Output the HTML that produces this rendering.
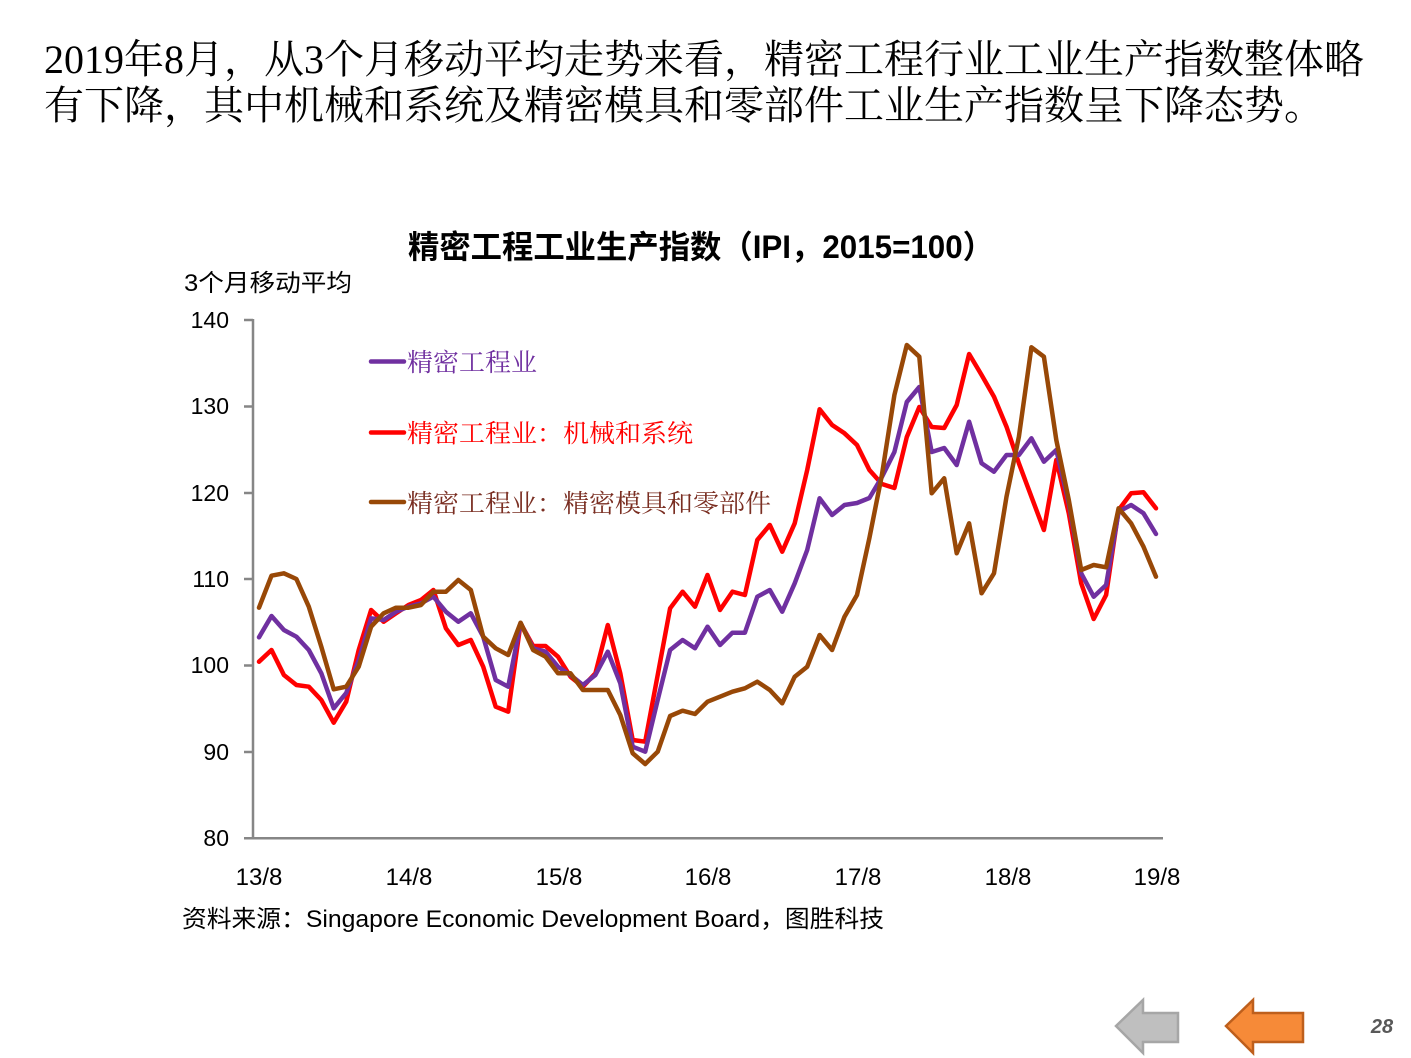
<!DOCTYPE html>
<html><head><meta charset="utf-8"><style>
html,body{margin:0;padding:0;background:#fff;}
svg{display:block;}
</style></head><body>
<svg width="1411" height="1058" viewBox="0 0 1411 1058" xmlns="http://www.w3.org/2000/svg">
<rect width="1411" height="1058" fill="#fff"/>
<!-- heading -->
<g font-family="'Liberation Serif','Noto Serif CJK SC',serif" font-size="40" fill="#000">
<text x="44" y="73" textLength="1320" lengthAdjust="spacingAndGlyphs">2019年8月，从3个月移动平均走势来看，精密工程行业工业生产指数整体略</text>
<text x="44" y="119" textLength="1280" lengthAdjust="spacingAndGlyphs">有下降，其中机械和系统及精密模具和零部件工业生产指数呈下降态势。</text>
</g>
<!-- title -->
<text x="408" y="258" font-family="'Liberation Sans','Noto Sans CJK SC',sans-serif" font-size="32" font-weight="bold" fill="#000" textLength="586" lengthAdjust="spacingAndGlyphs">精密工程工业生产指数（IPI，2015=100）</text>
<!-- y label -->
<text x="184" y="291" font-family="'Liberation Sans','Noto Sans CJK SC',sans-serif" font-size="24" fill="#000" textLength="168" lengthAdjust="spacingAndGlyphs">3个月移动平均</text>
<!-- axes -->
<g stroke="#868686" stroke-width="2.5" fill="none">
<line x1="253" y1="319" x2="253" y2="838"/>
<line x1="244" y1="838.3" x2="1163" y2="838.3"/>
<line x1="244" y1="320" x2="253" y2="320"/>
<line x1="244" y1="406.5" x2="253" y2="406.5"/>
<line x1="244" y1="493" x2="253" y2="493"/>
<line x1="244" y1="579" x2="253" y2="579"/>
<line x1="244" y1="665.5" x2="253" y2="665.5"/>
<line x1="244" y1="752" x2="253" y2="752"/>
</g>
<g font-family="'Liberation Sans',sans-serif" font-size="23" fill="#000" text-anchor="end">
<text x="229" y="328">140</text>
<text x="229" y="414">130</text>
<text x="229" y="501">120</text>
<text x="229" y="587">110</text>
<text x="229" y="673">100</text>
<text x="229" y="760">90</text>
<text x="229" y="846">80</text>
</g>
<g font-family="'Liberation Sans',sans-serif" font-size="24" fill="#000" text-anchor="middle">
<text x="259" y="885">13/8</text>
<text x="409" y="885">14/8</text>
<text x="559" y="885">15/8</text>
<text x="708" y="885">16/8</text>
<text x="858" y="885">17/8</text>
<text x="1008" y="885">18/8</text>
<text x="1157" y="885">19/8</text>
</g>
<text x="182" y="927" font-family="'Liberation Sans','Noto Sans CJK SC',sans-serif" font-size="24" fill="#000" textLength="702" lengthAdjust="spacingAndGlyphs">资料来源：Singapore Economic Development Board，图胜科技</text>
<!-- legend -->
<g stroke-width="4.5" stroke-linecap="round">
<line x1="371" y1="361.5" x2="404" y2="361.5" stroke="#7030A0"/>
<line x1="371" y1="432.5" x2="404" y2="432.5" stroke="#FF0000"/>
<line x1="371" y1="502" x2="404" y2="502" stroke="#984807"/>
</g>
<g font-family="'Liberation Serif','Noto Serif CJK SC',serif" font-size="25">
<text x="407" y="371" fill="#7030A0" textLength="130" lengthAdjust="spacingAndGlyphs">精密工程业</text>
<text x="407" y="442" fill="#FF0000" textLength="286" lengthAdjust="spacingAndGlyphs">精密工程业：机械和系统</text>
<text x="407" y="512" fill="#7a2e22" textLength="364" lengthAdjust="spacingAndGlyphs">精密工程业：精密模具和零部件</text>
</g>
<!-- series -->
<g fill="none" stroke-width="4.5" stroke-linejoin="round" stroke-linecap="round">
<polyline stroke="#FF0000" points="259.0,661.7 271.5,650 283.9,675 296.4,685 308.8,686.7 321.3,700 333.7,722.7 346.2,701.7 358.7,650 371.1,610 383.6,621.7 396.0,613.3 408.5,605 421.0,600 433.4,590 445.9,628.3 458.3,645 470.8,640 483.2,666.7 495.7,706.7 508.2,711.7 520.6,623.3 533.1,646 545.5,646 558.0,656.7 570.5,676.7 582.9,686.7 595.4,673.3 607.8,625 620.3,673.3 632.7,740 645.2,741.7 657.7,675 670.1,608.3 682.6,591.7 695.0,606.7 707.5,575 720.0,610 732.4,591.7 744.9,595 757.3,540 769.8,525 782.2,551.7 794.7,523.3 807.2,470 819.6,409.3 832.1,425 844.5,433.3 857.0,445 869.4,470 881.9,484 894.4,488 906.8,437 919.3,407 931.7,427 944.2,428 956.7,405 969.1,354 981.6,375 994.0,396.7 1006.5,426.7 1018.9,463.3 1031.4,496.7 1043.9,530 1056.3,460 1068.8,513.3 1081.2,583.3 1093.7,619 1106.1,595 1118.6,510 1131.1,493.3 1143.5,492.3 1156.0,508.3"/>
<polyline stroke="#7030A0" points="259.0,637.3 271.5,616 283.9,630 296.4,636.7 308.8,650 321.3,673.3 333.7,708.3 346.2,693 358.7,660 371.1,618.3 383.6,620 396.0,611.7 408.5,606.7 421.0,603.3 433.4,596.7 445.9,611.7 458.3,621.7 470.8,613.3 483.2,636.7 495.7,680 508.2,686.7 520.6,623 533.1,648.3 545.5,651.7 558.0,666.7 570.5,675 582.9,685 595.4,675 607.8,651.7 620.3,683.3 632.7,746.7 645.2,751.7 657.7,700 670.1,650 682.6,640 695.0,648.3 707.5,626.7 720.0,645 732.4,632.7 744.9,632.7 757.3,596.7 769.8,590 782.2,611.7 794.7,583.3 807.2,550 819.6,498.3 832.1,515 844.5,505 857.0,503 869.4,498 881.9,477 894.4,452 906.8,402 919.3,387 931.7,452 944.2,448 956.7,465 969.1,421.7 981.6,463.3 994.0,471.7 1006.5,455 1018.9,455 1031.4,438.3 1043.9,461.7 1056.3,450 1068.8,503.3 1081.2,573.3 1093.7,596.7 1106.1,585 1118.6,511.7 1131.1,505 1143.5,513.3 1156.0,534"/>
<polyline stroke="#984807" points="259.0,607.7 271.5,575.7 283.9,573.3 296.4,579 308.8,606.7 321.3,646.7 333.7,689.3 346.2,686.7 358.7,666.7 371.1,626.7 383.6,613.3 396.0,607.7 408.5,607.7 421.0,605 433.4,591.7 445.9,591.7 458.3,580 470.8,590 483.2,636.7 495.7,648.3 508.2,655 520.6,622.7 533.1,650 545.5,656.7 558.0,673.3 570.5,673.3 582.9,690 595.4,690 607.8,690 620.3,715 632.7,753.3 645.2,764 657.7,751.7 670.1,716 682.6,710.7 695.0,714 707.5,701.7 720.0,696.7 732.4,691.7 744.9,688.3 757.3,681.7 769.8,690 782.2,703.3 794.7,676.7 807.2,666.7 819.6,635 832.1,650 844.5,616.7 857.0,595 869.4,538 881.9,475 894.4,395 906.8,345 919.3,356.7 931.7,493.3 944.2,478.3 956.7,553.3 969.1,523.3 981.6,593.3 994.0,573.3 1006.5,496.7 1018.9,436.7 1031.4,347.3 1043.9,356.7 1056.3,440 1068.8,500 1081.2,570 1093.7,565 1106.1,567.3 1118.6,508.3 1131.1,523.3 1143.5,546.7 1156.0,576.7"/>
</g>
<!-- nav arrows -->
<polygon points="1116,1026 1143,1000 1143,1013 1178,1013 1178,1042 1143,1042 1143,1053" fill="#BFBFBF" stroke="#A6A6A6" stroke-width="2.5" stroke-linejoin="miter"/>
<polygon points="1226,1026 1253,1000 1253,1013 1303,1013 1303,1042 1253,1042 1253,1053" fill="#F68A38" stroke="#BE5F1C" stroke-width="2.5" stroke-linejoin="miter"/>
<text x="1382" y="1033" font-family="'Liberation Sans',sans-serif" font-size="20" font-weight="bold" font-style="italic" fill="#595959" text-anchor="middle">28</text>
</svg>
</body></html>
